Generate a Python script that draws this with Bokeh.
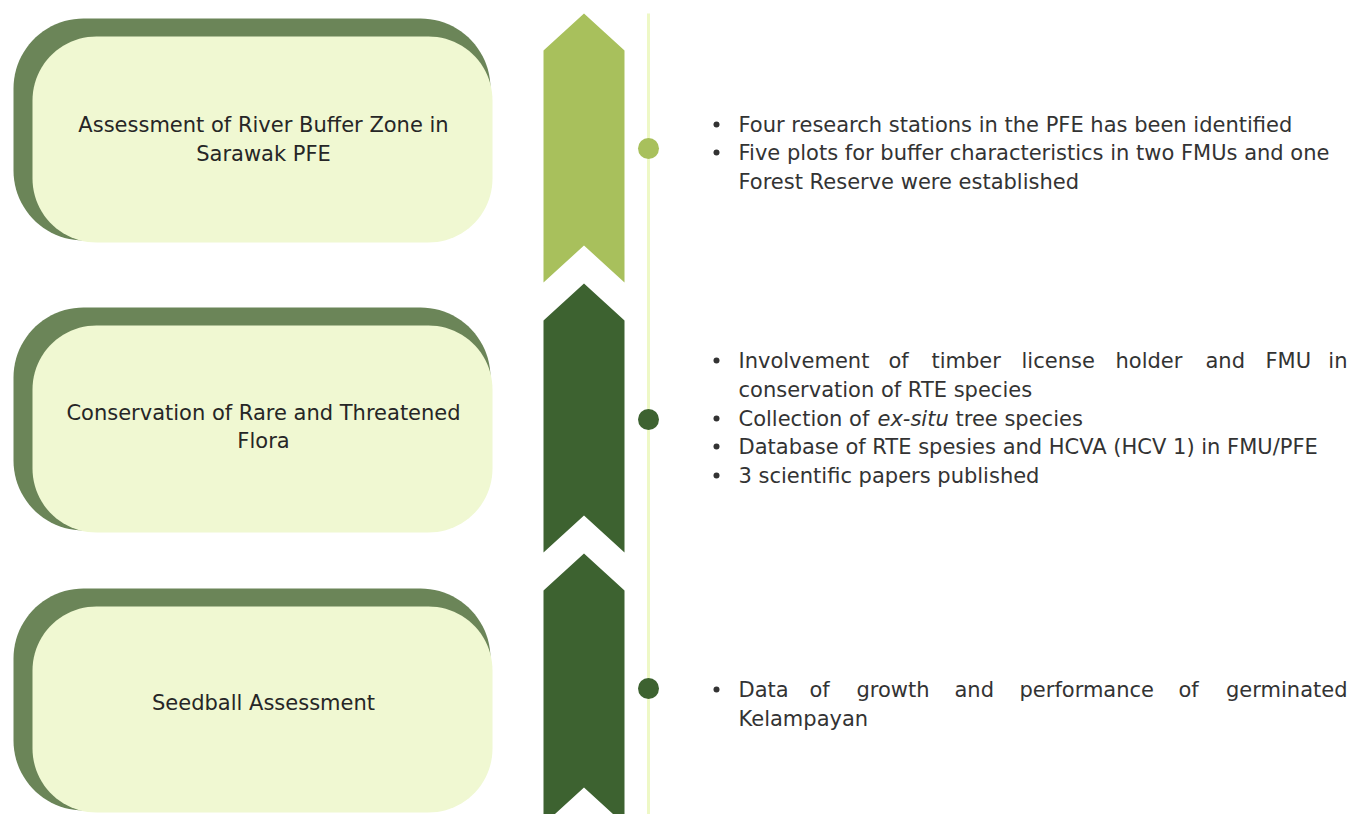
from bokeh.plotting import figure
from bokeh.models import Range1d
from bokeh.core.properties import value
from bokeh.embed import file_html
from bokeh.resources import INLINE
import numpy as np

# ---------------- data ----------------
topic_lines = [
    ["Assessment of River Buffer Zone in", "Sarawak PFE"],
    ["Conservation of Rare and Threatened", "Flora"],
    ["Seedball Assessment"],
]
group1_lines = [
    "Four research stations in the PFE has been identified",
    "Five plots for buffer characteristics in two FMUs and one",
    "Forest Reserve were established",
]
group1_bullets = [True, True, False]
group2_just_words = ["Involvement", "of", "timber", "license", "holder", "and", "FMU", "in"]
group2_lines = [
    None,
    "conservation of RTE species",
    None,
    "Database of RTE spesies and HCVA (HCV 1) in FMU/PFE",
    "3 scientific papers published",
]
group2_bullets = [True, False, True, True, True]
collection_parts = ["Collection of", "ex-situ", "tree species"]
group3_just_words = ["Data", "of", "growth", "and", "performance", "of", "germinated"]
group3_lines = [None, "Kelampayan"]
group3_bullets = [True, False]

# ---------------- layout ----------------
FONT = "DejaVu Sans"
FS = "21px"
W, H = 1353, 814
p = figure(width=W, height=H, output_backend="svg", toolbar_location=None,
           x_range=Range1d(0, W), y_range=Range1d(H, 0),
           min_border=0, outline_line_color=None, background_fill_color="white")
p.axis.visible = False
p.grid.visible = False

def rrect(x0, y0, x1, y1, r, n=24):
    xs, ys = [], []
    corners = [(x1 - r, y0 + r, -np.pi / 2, 0), (x1 - r, y1 - r, 0, np.pi / 2),
               (x0 + r, y1 - r, np.pi / 2, np.pi), (x0 + r, y0 + r, np.pi, 1.5 * np.pi)]
    for cx, cy, a0, a1 in corners:
        t = np.linspace(a0, a1, n)
        xs += list(cx + r * np.cos(t))
        ys += list(cy + r * np.sin(t))
    return xs, ys

box_tops = [18, 307, 588]
box_bottoms = [242, 532, 812]
DARK_BACK = "#6b8558"
LIGHT = "#f0f8d2"
for t, b in zip(box_tops, box_bottoms):
    xs, ys = rrect(13, t, 490, b - 2, 70)
    p.patch(xs, ys, fill_color=DARK_BACK, line_color=None)
    xs, ys = rrect(32, t + 18, 492, b, 64)
    p.patch(xs, ys, fill_color=LIGHT, line_color=None)

# box titles
title_y = [[124, 153], [412, 440], [702]]
for lines, ys in zip(topic_lines, title_y):
    p.text(x=[263] * len(lines), y=ys, text=lines, text_align="center",
           text_baseline="middle", text_font=value(FONT), text_font_size=FS,
           text_color="#262626")

# chevrons
CX0, CX1 = 543, 624
CM = (CX0 + CX1) / 2
chev = [(13, 282, "#a8c05c"), (283, 552, "#3d6230"), (553, 824, "#3d6230")]
TIP = 37
for top, bot, col in chev:
    xs = [CM, CX1, CX1, CM, CX0, CX0]
    ys = [top, top + TIP, bot, bot - TIP, bot, top + TIP]
    p.patch(xs, ys, fill_color=col, line_color=None)

# timeline line and dots
p.segment(x0=[648], y0=[13], x1=[648], y1=[814], line_color="#eef8c6", line_width=3)
p.circle(x=[648, 648, 648], y=[148, 419, 688], radius=10.5,
         fill_color=["#a8c05c", "#3d6230", "#3d6230"], line_color=None)

TX = 738
BX = 716
RIGHT = 1347
TC = "#333333"

def put_text(x, y, t, align="left", style="normal"):
    p.text(x=[x], y=[y], text=[t], text_align=align, text_baseline="middle",
           text_font=value(FONT), text_font_size=FS, text_color=TC,
           text_font_style=style)

def bullet(y):
    p.scatter(x=[BX], y=[y], size=6, marker="circle", fill_color=TC, line_color=None)

# group 1
for y, line, b in zip([124, 152, 181], group1_lines, group1_bullets):
    put_text(TX, y, line)
    if b:
        bullet(y)

# group 2
g2y = [360, 389, 418, 446, 475]
just2_x = [738, 888, 931, 1021, 1115, 1205, 1265]
for w, x in zip(group2_just_words[:-1], just2_x):
    put_text(x, g2y[0], w)
put_text(RIGHT, g2y[0], group2_just_words[-1], align="right")
for i, (line, b) in enumerate(zip(group2_lines, group2_bullets)):
    if line:
        put_text(TX, g2y[i], line)
    if b:
        bullet(g2y[i])
coll_x = [738, 877, 955]
for part, x in zip(collection_parts, coll_x):
    put_text(x, g2y[2], part, style="italic" if part == "ex-situ" else "normal")

# group 3
g3y = [689, 718]
just3_x = [738, 809, 856, 954, 1019, 1178]
for w, x in zip(group3_just_words[:-1], just3_x):
    put_text(x, g3y[0], w)
put_text(RIGHT, g3y[0], group3_just_words[-1], align="right")
for i, (line, b) in enumerate(zip(group3_lines, group3_bullets)):
    if line:
        put_text(TX, g3y[i], line)
    if b:
        bullet(g3y[i])

open("out.html", "w").write(file_html(p, INLINE))
